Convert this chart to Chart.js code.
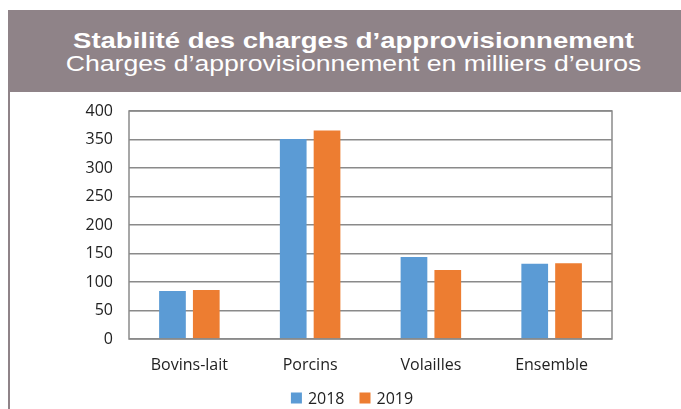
<!DOCTYPE html>
<html>
<head>
<meta charset="utf-8">
<script src="https://cdn.jsdelivr.net/npm/chart.js@4"></script>
<style>
  body { margin: 0; background: #fff; width: 681px; height: 409px; overflow: hidden; position: relative; }
  #head {
    position: absolute; left: 8px; top: 10px; width: 673px; height: 82px;
    background: #8f8388; color: #fff; text-align: center;
    font-family: "Liberation Sans", Arial, sans-serif;
  }
  #head div { transform-origin: 336.5px 0; white-space: nowrap; }
  #head .t1 { font-weight: bold; font-size: 22px; margin-top: 20px; line-height: 22px; transform: translateX(9px) scaleX(1.25); }
  #head .t2 { font-size: 22px; line-height: 23px; transform: translateX(9px) scaleX(1.21); }
  #rule { position: absolute; left: 8px; top: 92px; width: 2px; height: 317px; background: #8f8388; }
  #wrap { position: absolute; left: 10px; top: 92px; width: 671px; height: 317px; }
</style>
</head>
<body>
<div id="head">
  <div class="t1">Stabilité des charges d’approvisionnement</div>
  <div class="t2">Charges d’approvisionnement en milliers d’euros</div>
</div>
<div id="rule"></div>
<div id="wrap"><canvas id="chart"></canvas></div>
<script>
const categories = ['Bovins-lait', 'Porcins', 'Volailles', 'Ensemble'];
const values2018 = [84, 351, 144, 132];
const values2019 = [86, 366, 121, 133];
const yTicks = [0, 50, 100, 150, 200, 250, 300, 350, 400];

// frame around the plot area
const frame = {
  id: 'frame',
  afterDatasetsDraw(chart) {
    const a = chart.chartArea;
    const c = chart.ctx;
    c.save();
    c.strokeStyle = '#8a8a8a';
    c.lineWidth = 1.5;
    c.strokeRect(a.left, a.top, a.right - a.left, a.bottom - a.top);
    c.restore();
  }
};

// small legend under the x labels, built from the datasets
const bottomLegend = {
  id: 'bottomLegend',
  afterDraw(chart) {
    const c = chart.ctx;
    const sets = chart.data.datasets;
    c.save();
    c.font = '16px "Open Sans"';
    c.textBaseline = 'middle';
    c.fillStyle = '#222';
    const widths = sets.map(d => 11 + 6 + c.measureText(d.label).width);
    const total = widths.reduce((s, w) => s + w, 0) + 15 * (sets.length - 1);
    let x = 342 - total / 2;
    const y = chart.chartArea.bottom + 59;
    sets.forEach((d, i) => {
      c.fillStyle = d.backgroundColor;
      c.fillRect(x, y - 5.5, 11, 11);
      c.fillStyle = '#222';
      c.fillText(d.label, x + 17, y + 1);
      x += widths[i] + 15;
    });
    c.restore();
  }
};

const ctx = document.getElementById('chart').getContext('2d');
const myChart = new Chart(ctx, {
  type: 'bar',
  data: {
    labels: categories,
    datasets: [{
      label: '2018',
      data: values2018,
      backgroundColor: '#5b9bd5',
      categoryPercentage: 0.56,
      barPercentage: 0.79
    }, {
      label: '2019',
      data: values2019,
      backgroundColor: '#ed7d31',
      categoryPercentage: 0.56,
      barPercentage: 0.79
    }]
  },
  options: {
    responsive: true,
    maintainAspectRatio: false,
    animation: false,
    layout: { padding: { top: 19, right: 69, left: 0, bottom: 22 } },
    plugins: {
      legend: { display: false },
      tooltip: { enabled: false }
    },
    scales: {
      y: {
        min: 0,
        max: 400,
        afterFit(scale) {
          scale.width = 119;
          scale.paddingTop = 0;
          scale.paddingBottom = 0;
        },
        afterBuildTicks(scale) { scale.ticks = yTicks.map(v => ({ value: v })); },
        ticks: {
          color: '#222',
          padding: 16,
          font: { family: 'Open Sans', size: 16 }
        },
        border: { display: false },
        grid: {
          color: '#8a8a8a',
          lineWidth: 1.5,
          drawTicks: false
        }
      },
      x: {
        afterFit(scale) { scale.height = 48; },
        ticks: {
          color: '#222',
          padding: 9,
          font: { family: 'Open Sans', size: 16 }
        },
        border: { display: false },
        grid: { display: false }
      }
    }
  },
  plugins: [frame, bottomLegend]
});
</script>
</body>
</html>
